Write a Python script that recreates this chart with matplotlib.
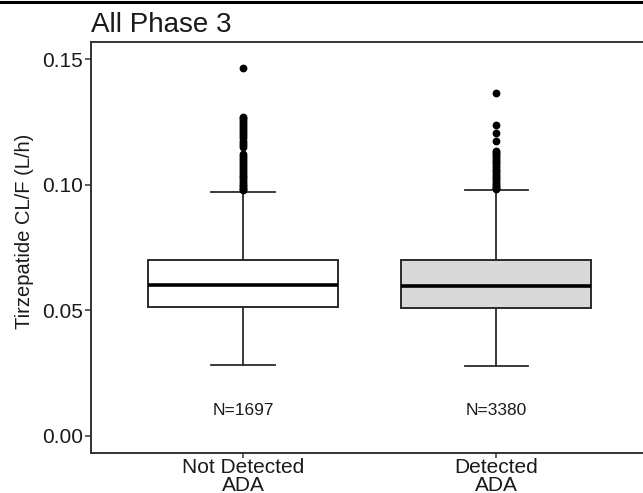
import matplotlib as mpl
mpl.use('Agg')
import matplotlib.pyplot as plt
from matplotlib.lines import Line2D

groups = ['Not Detected\nADA', 'Detected\nADA']
n_labels = ['N=1697', 'N=3380']
box_fill = ['white', '#d9d9d9']

q1 = [0.0515, 0.0511]
med = [0.0603, 0.0599]
q3 = [0.0701, 0.0700]
whis_lo = [0.0283, 0.0280]
whis_hi = [0.0972, 0.0978]

fliers_nd = [0.1467, 0.1272, 0.1265, 0.1258, 0.1250, 0.1242, 0.1235, 0.1226, 0.1218,
             0.1210, 0.1201, 0.1193, 0.1185, 0.1176, 0.1168, 0.1160, 0.1152,
             0.1121, 0.1114, 0.1106, 0.1098, 0.1090, 0.1082, 0.1075, 0.1067, 0.1060,
             0.1052, 0.1045, 0.1037, 0.1030, 0.1022, 0.1015, 0.1008, 0.1001, 0.0994,
             0.0988, 0.0982, 0.0978]
fliers_d = [0.1367, 0.1239, 0.1208, 0.1175, 0.1136, 0.1130, 0.1124, 0.1117, 0.1110,
            0.1103, 0.1096, 0.1089, 0.1082, 0.1075, 0.1068, 0.1061, 0.1054, 0.1047,
            0.1040, 0.1033, 0.1026, 0.1019, 0.1012, 0.1005, 0.0998, 0.0992, 0.0987,
            0.0983]
fliers = [fliers_nd, fliers_d]

yticks = [0.00, 0.05, 0.10, 0.15]

plt.rcParams['font.family'] = ['Liberation Sans', 'DejaVu Sans']

W, H = 643, 493
fig = plt.figure(figsize=(W / 100, H / 100), dpi=100)
fig.patch.set_facecolor('white')

# axes box in pixels: left 91, right ~648 (cropped), top 41.7, bottom 453.3
ax = fig.add_axes([91 / W, (H - 453.3) / H, (648.4 - 91) / W, (453.3 - 41.7) / H])

stats = []
for i in range(len(groups)):
    stats.append(dict(med=med[i], q1=q1[i], q3=q3[i], whislo=whis_lo[i],
                      whishi=whis_hi[i], fliers=fliers[i]))

edge = '#2b2b2b'
bp = ax.bxp(stats, positions=[1, 2], widths=0.75, capwidths=0.25,
            patch_artist=True, showfliers=True,
            boxprops=dict(edgecolor=edge, linewidth=1.4),
            medianprops=dict(color='black', linewidth=2.6),
            whiskerprops=dict(color=edge, linewidth=1.3),
            capprops=dict(color=edge, linewidth=1.3),
            flierprops=dict(marker='o', markerfacecolor='black',
                            markeredgecolor='black', markersize=4.6))
for patch, c in zip(bp['boxes'], box_fill):
    patch.set_facecolor(c)

for i, lab in enumerate(n_labels):
    ax.text(i + 1, 0.0101, lab, ha='center', va='center', fontsize=12.5, color='#1a1a1a')

ax.set_xlim(0.4, 2.6)
ax.set_ylim(-0.0069, 0.1570)
ax.set_yticks(yticks)
ax.set_yticklabels(['%.2f' % t for t in yticks])
ax.set_xticks([1, 2])
ax.set_xticklabels(groups, linespacing=0.9)

for s in ax.spines.values():
    s.set_color('#333333')
    s.set_linewidth(1.4)
ax.tick_params(axis='both', color='#333333', length=4, width=1.1, pad=2,
               labelcolor='#1a1a1a')
ax.tick_params(axis='y', labelsize=15)
ax.tick_params(axis='x', labelsize=15, length=3.5, pad=0)

fig.text(91 / W, 1 - 31.7 / H, 'All Phase 3', ha='left', va='baseline', fontsize=20,
         color='#1a1a1a')
fig.text(24 / W, 1 - 231 / H, 'Tirzepatide CL/F (L/h)', rotation=90, ha='center',
         va='center', fontsize=14.5, color='#1a1a1a')

# dark rule along the very top (cropped page edge)
fig.add_artist(Line2D([0, 1], [1 - 1.5 / H, 1 - 1.5 / H], color='black', linewidth=2.2,
                      transform=fig.transFigure))

fig.savefig('out.png', dpi=100)
